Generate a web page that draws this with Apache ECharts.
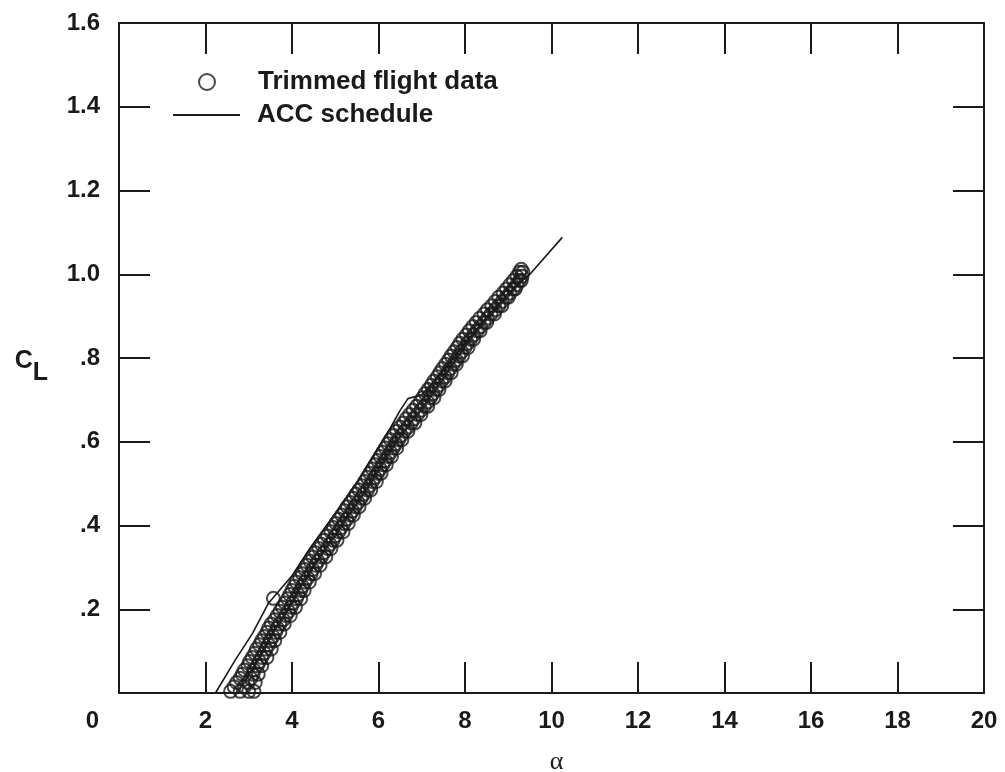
<!DOCTYPE html>
<html><head><meta charset="utf-8">
<script src="https://cdn.jsdelivr.net/npm/echarts@6/dist/echarts.min.js"></script>
<style>html,body{margin:0;padding:0;background:#fff}#c{width:1005px;height:772px}</style>
</head><body><div id="c"></div>
<script>
// ---- data ----
const xTickValues = [0, 2, 4, 6, 8, 10, 12, 14, 16, 18, 20];
const yTickLabels = ['', '.2', '.4', '.6', '.8', '1.0', '1.2', '1.4', '1.6'];

// Trimmed flight data: [alpha, CL]
const flightPoints = [
  [2.58,0.004],[2.8,0.004],[3.0,0.004],[3.12,0.004],[2.66,0.015],[2.9,0.015],[2.72,0.025],[2.98,0.025],[3.15,0.025],
  [2.8,0.035],[3.05,0.035],[2.85,0.045],[3.1,0.045],[3.22,0.045],
  [2.9,0.055],[3.12,0.055],[2.98,0.065],[3.2,0.065],[3.3,0.065],[3.02,0.075],[3.25,0.075],
  [3.08,0.085],[3.3,0.085],[3.42,0.085],[3.14,0.095],[3.36,0.095],
  [3.18,0.105],[3.4,0.105],[3.52,0.105],[3.25,0.115],[3.46,0.115],[3.3,0.125],[3.5,0.125],[3.6,0.125],
  [3.36,0.135],[3.56,0.135],[3.42,0.145],[3.62,0.145],[3.72,0.145],
  [3.46,0.155],[3.66,0.155],[3.52,0.165],[3.72,0.165],[3.82,0.165],[3.6,0.175],[3.8,0.175],
  [3.66,0.185],[3.86,0.185],[3.96,0.185],[3.72,0.195],[3.92,0.195],
  [3.78,0.205],[3.98,0.205],[4.08,0.205],[3.84,0.215],[4.02,0.215],[3.9,0.225],[4.1,0.225],[4.2,0.225],
  [3.57,0.226],
  [3.95,0.235],[4.14,0.235],[4.0,0.245],[4.2,0.245],[4.28,0.245],
  [4.05,0.255],[4.24,0.255],[4.1,0.265],[4.3,0.265],[4.4,0.265],[4.18,0.275],[4.36,0.275],
  [4.24,0.285],[4.44,0.285],[4.52,0.285],[4.3,0.295],[4.48,0.295],
  [4.35,0.305],[4.55,0.305],[4.65,0.305],[4.42,0.315],[4.6,0.315],[4.48,0.325],[4.68,0.325],[4.78,0.325],
  [4.55,0.335],[4.74,0.335],[4.62,0.345],[4.82,0.345],[4.9,0.345],
  [4.68,0.355],[4.88,0.355],[4.75,0.365],[4.95,0.365],[5.04,0.365],[4.82,0.375],[5.0,0.375],
  [4.9,0.385],[5.08,0.385],[5.18,0.385],[4.96,0.395],[5.14,0.395],
  [5.02,0.405],[5.2,0.405],[5.3,0.405],[5.08,0.415],[5.27,0.415],[5.15,0.425],[5.34,0.425],[5.42,0.425],
  [5.22,0.435],[5.4,0.435],[5.28,0.445],[5.46,0.445],[5.55,0.445],
  [5.35,0.455],[5.53,0.455],[5.42,0.465],[5.6,0.465],[5.68,0.465],[5.48,0.475],[5.66,0.475],
  [5.55,0.485],[5.74,0.485],[5.82,0.485],[5.62,0.495],[5.8,0.495],
  [5.68,0.505],[5.86,0.505],[5.95,0.505],[5.74,0.515],[5.92,0.515],[5.8,0.525],[5.98,0.525],[6.06,0.525],
  [5.86,0.535],[6.04,0.535],[5.92,0.545],[6.1,0.545],[6.18,0.545],
  [5.98,0.555],[6.16,0.555],[6.04,0.565],[6.22,0.565],[6.3,0.565],[6.1,0.575],[6.28,0.575],
  [6.16,0.585],[6.34,0.585],[6.42,0.585],[6.22,0.595],[6.4,0.595],
  [6.28,0.605],[6.46,0.605],[6.54,0.605],[6.35,0.615],[6.53,0.615],[6.42,0.625],[6.6,0.625],[6.68,0.625],
  [6.5,0.635],[6.68,0.635],[6.58,0.645],[6.76,0.645],[6.84,0.645],
  [6.64,0.655],[6.82,0.655],[6.72,0.665],[6.9,0.665],[6.98,0.665],[6.8,0.675],[6.98,0.675],
  [6.88,0.685],[7.06,0.685],[7.14,0.685],[6.96,0.695],[7.14,0.695],
  [7.02,0.705],[7.2,0.705],[7.28,0.705],[7.08,0.715],[7.26,0.715],[7.15,0.725],[7.33,0.725],[7.4,0.725],
  [7.22,0.735],[7.4,0.735],[7.28,0.745],[7.46,0.745],[7.54,0.745],
  [7.36,0.755],[7.54,0.755],[7.42,0.765],[7.6,0.765],[7.68,0.765],[7.48,0.775],[7.66,0.775],
  [7.55,0.785],[7.73,0.785],[7.8,0.785],[7.62,0.795],[7.8,0.795],
  [7.68,0.805],[7.86,0.805],[7.94,0.805],[7.75,0.815],[7.92,0.815],[7.82,0.825],[8.0,0.825],[8.07,0.825],
  [7.88,0.835],[8.06,0.835],[7.95,0.845],[8.13,0.845],[8.2,0.845],
  [8.03,0.855],[8.2,0.855],[8.1,0.865],[8.28,0.865],[8.35,0.865],[8.18,0.875],[8.36,0.875],
  [8.26,0.885],[8.44,0.885],[8.5,0.885],[8.34,0.895],[8.52,0.895],
  [8.44,0.905],[8.6,0.905],[8.68,0.905],[8.52,0.915],[8.7,0.915],[8.62,0.925],[8.78,0.925],[8.85,0.925],
  [8.7,0.935],[8.86,0.935],[8.78,0.945],[8.95,0.945],[9.0,0.945],
  [8.88,0.955],[9.04,0.955],[8.96,0.965],[9.12,0.965],[9.16,0.965],[9.04,0.975],[9.2,0.975],
  [9.12,0.985],[9.26,0.985],[9.3,0.985],[9.2,0.995],[9.32,0.995],[9.26,1.005],[9.34,1.005],[9.3,1.012]
];

// ACC schedule line
const scheduleAlpha = [2.23, 2.69, 3.09, 3.46, 4.0, 4.43, 5.05, 5.55, 5.9, 6.28, 6.5, 6.68, 6.85, 7.0, 7.5, 8.0, 8.5, 9.0, 9.5, 10.25];
const scheduleCL    = [0.0, 0.079, 0.143, 0.215, 0.28, 0.348, 0.436, 0.51, 0.57, 0.634, 0.675, 0.703, 0.708, 0.712, 0.77, 0.835, 0.898, 0.955, 1.0, 1.088];

const seriesNames = ['Trimmed flight data', 'ACC schedule'];

// ---- chart ----
const INK = '#1a1a1a';
const SANS = '"Liberation Sans", Arial, Helvetica, sans-serif';
const chart = echarts.init(document.getElementById('c'), null, {renderer: 'canvas'});

const axisCommon = {
  axisLine: {show: true, onZero: false, lineStyle: {color: INK, width: 2}},
  axisTick: {show: true, inside: true, length: 31, lineStyle: {color: INK, width: 2}},
  splitLine: {show: false}
};

chart.setOption({
  backgroundColor: '#ffffff',
  animation: false,
  grid: {left: 119, right: 21, top: 23, bottom: 79, containLabel: false, outerBoundsMode: 'none'},
  legend: [
    {
      data: [seriesNames[0]], orient: 'vertical', left: 198, top: 69, padding: 0,
      itemWidth: 16, itemHeight: 16,
      textStyle: {color: INK, fontFamily: SANS, fontWeight: 'bold', fontSize: 26, padding: [0, 0, 0, 38]}
    },
    {
      data: [{name: seriesNames[1], icon: 'rect'}], orient: 'vertical', left: 173, top: 102, padding: 0,
      itemWidth: 67, itemHeight: 2,
      itemStyle: {color: INK, borderWidth: 0},
      textStyle: {color: INK, fontFamily: SANS, fontWeight: 'bold', fontSize: 26, padding: [0, 0, 0, 12]}
    }
  ],
  xAxis: [
    Object.assign({
      type: 'value', position: 'bottom', min: 0, max: 20, interval: 2,
      name: 'α', nameLocation: 'middle', nameGap: 56,
      nameTextStyle: {color: INK, fontFamily: '"Liberation Serif", "DejaVu Serif", serif', fontSize: 26, padding: [0, 0, 0, 10]},
      axisLabel: {
        color: INK, fontFamily: SANS, fontWeight: 'bold', fontSize: 24, margin: 16,
        formatter: v => v === 0 ? '{z|0}' : String(v),
        rich: {z: {color: INK, fontFamily: SANS, fontWeight: 'bold', fontSize: 24, padding: [0, 53, 0, 0]}}
      }
    }, axisCommon),
    Object.assign({
      type: 'value', position: 'top', min: 0, max: 20, interval: 2,
      axisLabel: {show: false}
    }, axisCommon)
  ],
  yAxis: [
    Object.assign({
      type: 'value', position: 'left', min: 0, max: 1.6, interval: 0.2,
      name: '{c|C}{l|L}', nameLocation: 'middle', nameRotate: 0, nameGap: 71,
      nameTextStyle: {
        padding: [19, 0, 0, 0],
        rich: {
          c: {color: INK, fontFamily: SANS, fontWeight: 'bold', fontSize: 25, verticalAlign: 'top'},
          l: {color: INK, fontFamily: SANS, fontWeight: 'bold', fontSize: 25, verticalAlign: 'bottom', padding: [12, 0, 0, 0]}
        }
      },
      axisLabel: {
        color: INK, fontFamily: SANS, fontWeight: 'bold', fontSize: 24, margin: 19,
        formatter: v => yTickLabels[Math.round(v / 0.2)]
      }
    }, axisCommon),
    Object.assign({
      type: 'value', position: 'right', min: 0, max: 1.6, interval: 0.2,
      axisLabel: {show: false}
    }, axisCommon)
  ],
  series: [
    {
      name: seriesNames[0], type: 'scatter', xAxisIndex: 0, yAxisIndex: 0,
      symbol: 'circle', symbolSize: 13,
      itemStyle: {color: 'rgba(255,255,255,0)', borderColor: INK, borderWidth: 2},
      data: flightPoints, z: 3
    },
    {
      name: seriesNames[1], type: 'line', xAxisIndex: 0, yAxisIndex: 0,
      showSymbol: false, symbol: 'none',
      lineStyle: {color: INK, width: 1.6},
      itemStyle: {color: INK},
      data: scheduleAlpha.map((a, i) => [a, scheduleCL[i]]), z: 2
    }
  ]
});
</script>
</body></html>
